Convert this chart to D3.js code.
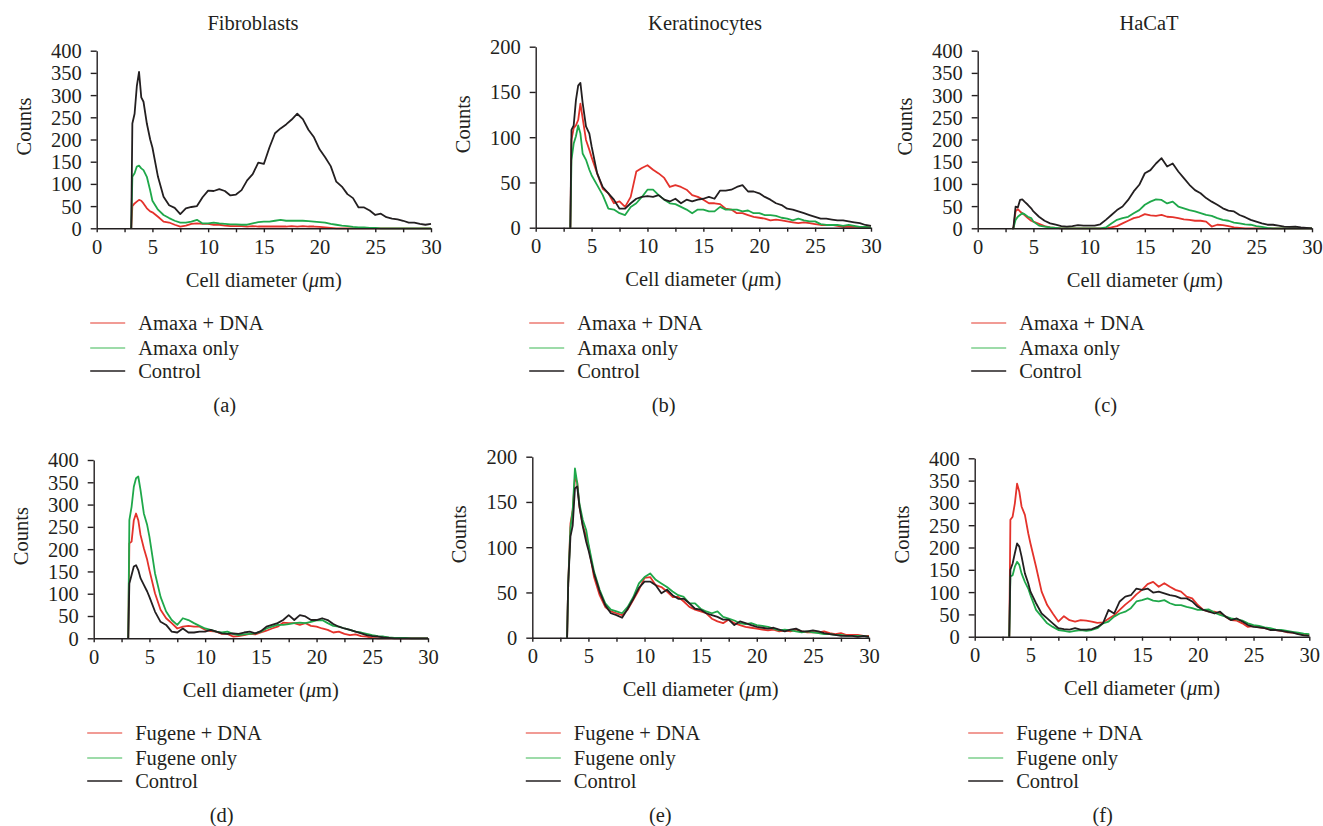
<!DOCTYPE html>
<head>
<meta charset="utf-8">
<title>Cell diameter distributions</title>
</head>
<style>
body { margin: 0; background: #fff; }
svg { display: block; }
text { font-family: "Liberation Serif", "Times New Roman", serif; fill: #231f20; }
.axis path, .axis line { stroke: #231f20; stroke-width: 1.4px; }
.series { fill: none; stroke-width: 1.8px; stroke-linejoin: round; }
</style>
<body>
<script src="https://d3js.org/d3.v7.min.js"></script>
<script>

// cell diameter (µm) at which every curve was read
var diameters = [3.1, 3.2, 3.4, 3.6, 3.8, 4.0, 4.2, 4.5, 4.8, 5.0,
  5.5, 6, 6.5, 7, 7.5, 8, 8.5, 9, 9.5, 10,
  10.5, 11, 11.5, 12, 12.5, 13, 13.5, 14, 14.5, 15,
  15.5, 16, 16.5, 17, 17.5, 18, 18.5, 19, 19.5, 20,
  20.5, 21, 21.5, 22, 22.5, 23, 23.5, 24, 24.5, 25,
  25.5, 26, 26.5, 27, 27.5, 28, 28.5, 29, 29.5, 30];

var xTicks = [0, 2.5, 5, 7.5, 10, 12.5, 15, 17.5, 20, 22.5, 25, 27.5, 30];
var yTicks400 = [0, 50, 100, 150, 200, 250, 300, 350, 400];
var yTicks200 = [0, 50, 100, 150, 200];

var amaxaNames = ["Amaxa + DNA", "Amaxa only", "Control"];
var fugeneNames = ["Fugene + DNA", "Fugene only", "Control"];
var titles = ["Fibroblasts", "Keratinocytes", "HaCaT", "", "", ""];
var tags = ["(a)", "(b)", "(c)", "(d)", "(e)", "(f)"];

// (a) fibroblasts, amaxa
var fibAmaxaDNA = [0, 50, 56, 60, 64, 62, 56, 45, 38, 36,
  26, 15, 13, 8, 4, 6, 10, 11, 10, 10,
  8, 8, 6, 5, 5, 5, 4, 5, 4, 4,
  4, 4, 4, 4, 5, 4, 5, 4, 4, 3,
  2, 1, 0, 0, 0, 0, 0, 0, 0, 0,
  0, 0, 0, 0, 0, 0, 0, 0, 0, 0];
var fibAmaxaOnly = [0, 116, 124, 139, 141, 135, 131, 116, 85, 62,
  42, 30, 23, 17, 13, 13, 15, 19, 11, 11,
  13, 11, 10, 9, 9, 8, 8, 11, 14, 15,
  15, 17, 19, 17, 17, 17, 17, 16, 15, 14,
  13, 10, 8, 6, 5, 3, 2, 2, 1, 1,
  0, 0, 0, 0, 0, 0, 0, 0, 0, 0];
var fibAmaxaCtrl = [0, 236, 258, 320, 352, 295, 285, 236, 200, 182,
  116, 71, 52, 46, 32, 45, 48, 50, 70, 85,
  84, 88, 84, 74, 76, 86, 108, 122, 148, 145,
  182, 214, 225, 234, 245, 258, 246, 222, 205, 178,
  160, 140, 105, 94, 77, 68, 47, 47, 40, 30,
  33, 25, 22, 20, 17, 13, 13, 10, 8, 10];

// (b) keratinocytes, amaxa
var kerAmaxaDNA = [0, 97, 110, 113, 119, 137, 121, 97, 86, 78,
  60, 43, 38, 27, 29, 23, 34, 62, 66, 69,
  64, 60, 55, 45, 47, 45, 42, 36, 34, 31,
  27, 27, 26, 21, 20, 16, 16, 14, 12, 11,
  10, 8, 9, 8, 7, 6, 5, 6, 5, 4,
  3, 3, 3, 2, 1, 1, 1, 1, 1, 0];
var kerAmaxaOnly = [0, 75, 93, 101, 113, 104, 82, 75, 64, 58,
  47, 36, 21, 20, 16, 14, 23, 27, 34, 42,
  42, 36, 31, 27, 26, 23, 20, 16, 20, 20,
  18, 18, 23, 20, 20, 20, 18, 19, 16, 16,
  14, 14, 13, 11, 10, 8, 10, 8, 7, 7,
  4, 3, 3, 3, 2, 3, 2, 1, 1, 0];
var kerAmaxaCtrl = [0, 108, 113, 141, 157, 160, 138, 112, 104, 90,
  60, 45, 38, 31, 21, 21, 27, 32, 34, 35,
  34, 36, 31, 29, 32, 27, 31, 29, 31, 32,
  34, 32, 41, 41, 42, 45, 47, 40, 40, 38,
  34, 31, 27, 25, 21, 20, 18, 16, 14, 12,
  10, 10, 9, 8, 8, 7, 6, 5, 3, 2];

// (c) HaCaT, amaxa
var hacAmaxaDNA = [0, 0, 38, 43, 38, 34, 30, 23, 17, 15,
  10, 5, 2, 1, 0, 0, 0, 0, 0, 0,
  0, 0, 0, 2, 5, 11, 17, 23, 26, 32,
  29, 28, 30, 26, 25, 23, 20, 19, 17, 17,
  15, 4, 8, 7, 5, 2, 1, 0, 0, 0,
  0, 0, 0, 0, 0, 0, 0, 0, 0, 0];
var hacAmaxaOnly = [0, 0, 19, 26, 30, 34, 32, 26, 23, 15,
  6, 4, 2, 1, 0, 0, 0, 0, 0, 0,
  0, 0, 2, 11, 19, 23, 26, 34, 41, 53,
  60, 65, 64, 56, 60, 49, 45, 41, 38, 34,
  30, 28, 23, 19, 17, 13, 11, 9, 8, 5,
  3, 1, 0, 0, 0, 0, 0, 0, 0, 0];
var hacAmaxaCtrl = [0, 0, 49, 47, 64, 65, 60, 53, 45, 38,
  26, 17, 11, 8, 5, 4, 5, 7, 6, 6,
  6, 9, 19, 30, 41, 49, 64, 83, 98, 124,
  131, 146, 158, 139, 146, 128, 113, 98, 86, 79,
  68, 60, 53, 45, 40, 38, 30, 25, 19, 15,
  11, 8, 8, 6, 4, 3, 4, 2, 1, 0];

// (d) fibroblasts, fugene
var fibFugeneDNA = [0, 213, 217, 265, 280, 265, 232, 202, 176, 153,
  101, 64, 45, 34, 22, 26, 28, 26, 26, 19,
  16, 15, 10, 10, 4, 5, 7, 10, 9, 13,
  17, 22, 26, 35, 34, 34, 30, 34, 28, 26,
  22, 19, 13, 15, 10, 7, 9, 5, 4, 1,
  0, 0, 0, 0, 0, 0, 0, 0, 0, 0];
var fibFugeneOnly = [0, 265, 295, 340, 359, 363, 333, 280, 254, 228,
  146, 93, 60, 41, 30, 45, 41, 34, 28, 22,
  19, 15, 13, 15, 10, 7, 9, 10, 11, 15,
  22, 26, 30, 30, 32, 34, 35, 34, 37, 40,
  41, 34, 28, 26, 22, 19, 15, 13, 10, 7,
  5, 4, 2, 1, 1, 1, 0, 0, 0, 0];
var fibFugeneCtrl = [0, 123, 142, 161, 164, 153, 135, 120, 105, 93,
  60, 37, 30, 15, 13, 22, 13, 13, 15, 15,
  19, 15, 11, 10, 11, 10, 13, 15, 11, 16,
  26, 30, 34, 41, 52, 41, 52, 49, 41, 41,
  45, 41, 32, 26, 22, 19, 15, 11, 7, 5,
  4, 2, 1, 0, 0, 0, 0, 0, 0, 0];

// (e) keratinocytes, fugene
var kerFugeneDNA = [0, 60, 126, 141, 176, 172, 145, 124, 112, 102,
  67, 47, 34, 29, 27, 25, 31, 42, 53, 66,
  67, 58, 56, 51, 45, 45, 40, 34, 31, 29,
  27, 21, 18, 16, 20, 16, 14, 12, 11, 10,
  9, 8, 9, 7, 8, 7, 9, 7, 6, 6,
  6, 7, 5, 4, 5, 3, 3, 3, 2, 2];
var kerFugeneOnly = [0, 60, 121, 141, 187, 171, 148, 130, 119, 104,
  73, 53, 38, 31, 29, 27, 34, 45, 60, 67,
  71, 64, 60, 56, 51, 47, 45, 38, 38, 32,
  29, 27, 29, 23, 21, 19, 16, 15, 16, 14,
  13, 12, 10, 8, 9, 8, 7, 6, 7, 6,
  5, 4, 4, 3, 3, 2, 2, 2, 2, 1];
var kerFugeneCtrl = [0, 60, 112, 124, 165, 167, 145, 123, 106, 97,
  71, 51, 36, 27, 25, 22, 32, 43, 55, 62,
  62, 58, 49, 53, 47, 43, 43, 38, 32, 31,
  27, 25, 23, 20, 20, 14, 18, 16, 14, 12,
  11, 10, 11, 9, 7, 9, 10, 7, 7, 8,
  7, 5, 4, 3, 2, 2, 2, 1, 2, 1];

// (f) HaCaT, fugene
var hacFugeneDNA = [0, 262, 269, 299, 343, 325, 292, 273, 232, 209,
  157, 101, 71, 52, 34, 46, 37, 34, 37, 36,
  34, 31, 32, 40, 48, 60, 72, 82, 95, 105,
  118, 123, 112, 120, 112, 105, 101, 90, 86, 71,
  60, 56, 56, 52, 45, 37, 36, 30, 22, 24,
  21, 19, 16, 15, 13, 10, 9, 7, 4, 4];
var hacFugeneOnly = [0, 135, 138, 157, 168, 161, 142, 123, 108, 93,
  60, 45, 30, 22, 15, 13, 11, 13, 15, 13,
  15, 19, 30, 34, 45, 52, 56, 64, 79, 82,
  86, 81, 79, 82, 75, 71, 71, 67, 64, 60,
  60, 61, 54, 49, 45, 41, 39, 36, 30, 26,
  24, 21, 19, 16, 15, 13, 11, 9, 7, 6];
var hacFugeneCtrl = [0, 150, 164, 187, 209, 202, 180, 142, 120, 101,
  75, 52, 41, 30, 19, 17, 16, 19, 16, 16,
  17, 22, 30, 60, 52, 79, 90, 93, 108, 105,
  108, 99, 101, 97, 93, 91, 86, 86, 79, 67,
  60, 56, 52, 56, 45, 37, 41, 34, 26, 22,
  21, 19, 15, 15, 13, 11, 9, 6, 3, 2];

var seriesColor = ["#e4322b", "#1fa84a", "#231f20"];
var legendColor = ["#ec7a72", "#7dcf8c", "#231f20"];

var panels = [
  { series: [fibAmaxaDNA, fibAmaxaOnly, fibAmaxaCtrl], names: amaxaNames, yTicks: yTicks400 },
  { series: [kerAmaxaDNA, kerAmaxaOnly, kerAmaxaCtrl], names: amaxaNames, yTicks: yTicks200 },
  { series: [hacAmaxaDNA, hacAmaxaOnly, hacAmaxaCtrl], names: amaxaNames, yTicks: yTicks400 },
  { series: [fibFugeneDNA, fibFugeneOnly, fibFugeneCtrl], names: fugeneNames, yTicks: yTicks400 },
  { series: [kerFugeneDNA, kerFugeneOnly, kerFugeneCtrl], names: fugeneNames, yTicks: yTicks200 },
  { series: [hacFugeneDNA, hacFugeneOnly, hacFugeneCtrl], names: fugeneNames, yTicks: yTicks400 }
];

// where each plot frame sits on the page; rowY = legend first line
var frames = [
  { x0: 96.7, x1: 431, top: 50.7, bot: 228.3, titleX: 253, rowY: 323 },
  { x0: 535.7, x1: 871, top: 46.7, bot: 227.7, titleX: 705, rowY: 323 },
  { x0: 977.7, x1: 1312, top: 50.7, bot: 228.3, titleX: 1149, rowY: 323 },
  { x0: 93.7, x1: 428, top: 460, bot: 638.3, rowY: 733 },
  { x0: 532.3, x1: 869, top: 456.7, bot: 637.7, rowY: 733 },
  { x0: 974.7, x1: 1309.3, top: 458.3, bot: 636.7, rowY: 733 }
];

var fontSize = 20.5;

var svg = d3.select("body").append("svg")
  .attr("width", 1323)
  .attr("height", 826);

svg.append("rect").attr("width", 1323).attr("height", 826).attr("fill", "#fff");

panels.forEach(function(p, i) {
  var f = frames[i];
  var g = svg.append("g");
  var yMax = d3.max(p.yTicks);

  var x = d3.scaleLinear().domain([0, 30]).range([f.x0, f.x1]);
  var y = d3.scaleLinear().domain([0, yMax]).range([f.bot, f.top]);

  var line = d3.line()
    .x(function(d, k) { return x(diameters[k]); })
    .y(function(d) { return y(d); });

  // curves first, axes on top of them
  p.series.forEach(function(s, k) {
    g.append("path")
      .attr("class", "series")
      .attr("d", line(s))
      .style("stroke", seriesColor[k]);
  });

  var xAxis = g.append("g")
    .attr("class", "axis")
    .attr("transform", "translate(0," + f.bot + ")")
    .call(d3.axisBottom(x)
      .tickValues(xTicks)
      .tickSizeInner(4)
      .tickSizeOuter(0)
      .tickFormat(function(d) { return d % 5 === 0 ? d : ""; }));

  var yAxis = g.append("g")
    .attr("class", "axis")
    .attr("transform", "translate(" + f.x0 + ",0)")
    .call(d3.axisLeft(y)
      .tickValues(p.yTicks)
      .tickSizeInner(6)
      .tickSizeOuter(0));

  xAxis.selectAll("text")
    .style("font-size", fontSize + "px")
    .attr("dy", null)
    .attr("y", 25.5);
  yAxis.selectAll("text")
    .style("font-size", fontSize + "px")
    .attr("x", -15)
    .attr("dy", "0.34em");
  g.selectAll(".axis").attr("font-family", null).attr("font-size", null);

  if (titles[i]) {
    g.append("text")
      .attr("x", f.titleX)
      .attr("y", 30)
      .attr("text-anchor", "middle")
      .style("font-size", fontSize + "px")
      .text(titles[i]);
  }

  g.append("text")
    .attr("transform", "translate(" + (f.x0 - 66) + "," + ((f.top + f.bot) / 2 - 13) + ") rotate(-90)")
    .attr("text-anchor", "middle")
    .style("font-size", fontSize + "px")
    .text("Counts");

  var xl = g.append("text")
    .attr("x", (f.x0 + f.x1) / 2)
    .attr("y", f.bot + 58.5)
    .attr("text-anchor", "middle")
    .style("font-size", fontSize + "px");
  xl.append("tspan").text("Cell diameter (");
  xl.append("tspan").style("font-style", "italic").text("\u03bc");
  xl.append("tspan").text("m)");

  // legend under each plot
  var lg = g.append("g")
    .attr("transform", "translate(" + (f.x0 - 6.5) + "," + f.rowY + ")");
  p.names.forEach(function(name, k) {
    var ly = [0, 25, 48][k];
    lg.append("line")
      .attr("x1", 0).attr("x2", 35)
      .attr("y1", ly).attr("y2", ly)
      .style("stroke", legendColor[k])
      .style("stroke-width", 1.3);
    lg.append("text")
      .attr("x", 48)
      .attr("y", ly + 6.5)
      .style("font-size", fontSize + "px")
      .text(name);
  });

  g.append("text")
    .attr("x", f.x0 + 128)
    .attr("y", f.rowY + 89)
    .attr("text-anchor", "middle")
    .style("font-size", fontSize + "px")
    .text(tags[i]);
});

</script>
</body>
